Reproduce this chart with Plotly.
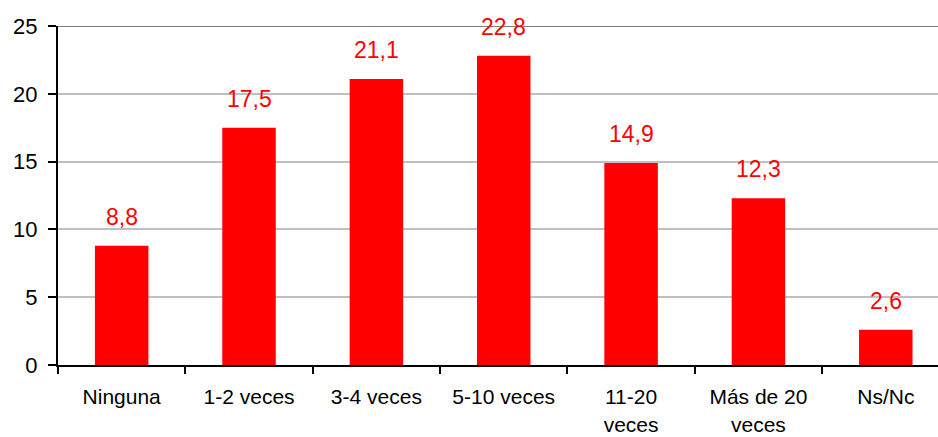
import plotly.graph_objects as go

# Frecuencia de respuesta (%)
categorias = ["Ninguna", "1-2 veces", "3-4 veces", "5-10 veces",
              "11-20<br>veces", "Más de 20<br>veces", "Ns/Nc"]
valores = [8.8, 17.5, 21.1, 22.8, 14.9, 12.3, 2.6]
etiquetas = ["8,8", "17,5", "21,1", "22,8", "14,9", "12,3", "2,6"]
y_ticks = [0, 5, 10, 15, 20, 25]

FONT = "Liberation Sans, Arial, sans-serif"
RED = "#FF0000"

fig = go.Figure()
fig.add_trace(go.Bar(
    x=categorias, y=valores, width=0.42,
    marker=dict(color=RED, line=dict(width=0)),
    hoverinfo="skip",
))

# value labels above each bar
for c, v, t in zip(categorias, valores, etiquetas):
    fig.add_annotation(x=c, y=v, text=t, showarrow=False,
                       yanchor="bottom", yshift=14,
                       font=dict(family=FONT, size=23, color=RED))

# darker top border of the plot area
fig.add_shape(type="line", xref="paper", yref="y", x0=0, x1=1, y0=25, y1=25,
              line=dict(color="#808080", width=2), layer="above")

fig.update_layout(
    width=938, height=437,
    margin=dict(l=58, r=0, t=26, b=72),
    paper_bgcolor="white", plot_bgcolor="white",
    showlegend=False,
    font=dict(family=FONT, size=21, color="black"),
    xaxis=dict(
        type="category", range=[-0.5, 6.41],
        showline=True, linecolor="black", linewidth=2,
        ticks="outside", tickson="boundaries", ticklen=7, tickwidth=2,
        tickcolor="black", showgrid=False, ticklabelstandoff=12,
        tickfont=dict(family=FONT, size=21, color="black"),
    ),
    yaxis=dict(
        range=[0, 25], tickvals=y_ticks, ticktext=[str(v) for v in y_ticks],
        showline=True, linecolor="black", linewidth=2,
        ticks="outside", ticklen=8, tickwidth=2, tickcolor="black",
        showgrid=True, gridcolor="#C0C0C0", gridwidth=2,
        zeroline=False, ticklabelstandoff=6,
        tickfont=dict(family=FONT, size=22, color="black"),
    ),
)

fig.write_html("out.html")
